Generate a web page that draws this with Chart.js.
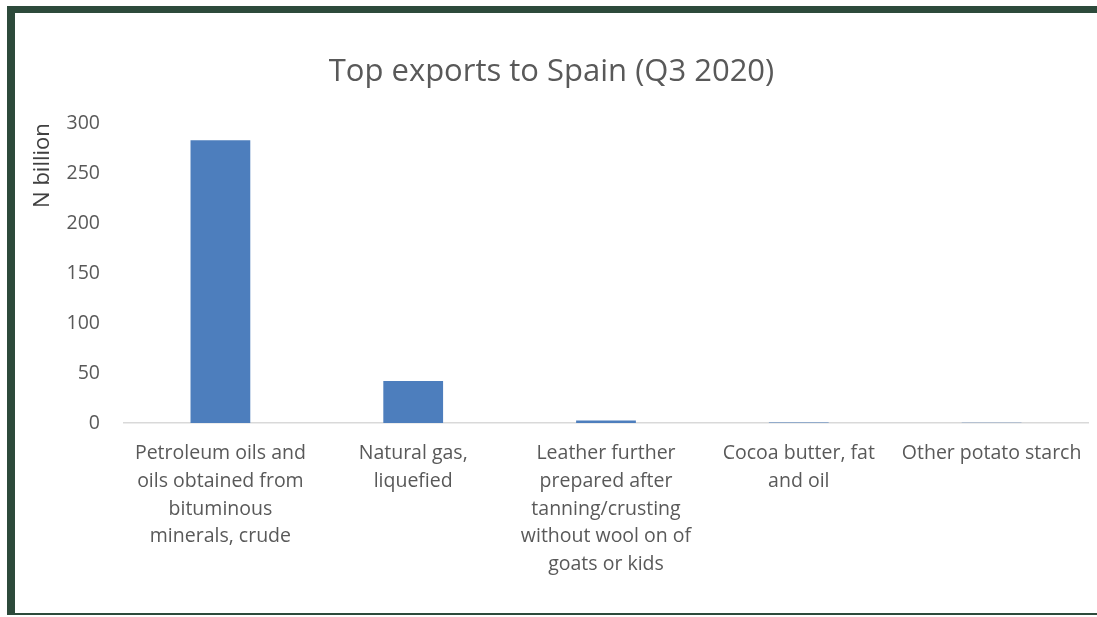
<!DOCTYPE html>
<html>
<head>
<meta charset="utf-8">
<script src="https://cdn.jsdelivr.net/npm/chart.js@4"></script>
<style>
  html, body { margin: 0; padding: 0; background: #ffffff; }
  body { width: 1097px; height: 617px; position: relative; overflow: hidden; }
  #frame { position: absolute; left: 7px; top: 6px; width: 1090px; height: 609px;
           border-left: 8px solid #2d4a3b; border-top: 7px solid #2d4a3b; border-bottom: 2px solid #2d4a3b; box-sizing: border-box; }
  #wrap { position: absolute; left: 15px; top: 13px; width: 1082px; height: 602px; }
</style>
</head>
<body>
<div id="frame"></div>
<div id="wrap"><canvas id="c" width="1082" height="602"></canvas></div>
<script>
const categories = [
  ["Petroleum oils and", "oils obtained from", "bituminous", "minerals, crude"],
  ["Natural gas,", "liquefied"],
  ["Leather further", "prepared after", "tanning/crusting", "without wool on of", "goats or kids"],
  ["Cocoa butter, fat", "and oil"],
  ["Other potato starch"]
];
const values = [283, 42, 2.5, 0.4, 0.2];
const yTicks = [0, 50, 100, 150, 200, 250, 300];
const titleText = "Top exports to Spain (Q3 2020)";
const yTitle = "N billion";

const FONT = "'Open Sans', 'Noto Sans', sans-serif";

new Chart(document.getElementById('c'), {
  type: 'bar',
  data: {
    labels: categories,
    datasets: [{
      data: values,
      backgroundColor: '#4d7ebd',
      barPercentage: 0.62,
      categoryPercentage: 0.5
    }]
  },
  options: {
    responsive: false,
    animation: false,
    layout: { padding: { top: 30, right: 9, bottom: 0, left: 0 } },
    plugins: {
      legend: { display: false },
      tooltip: { enabled: false },
      title: {
        display: true,
        text: titleText,
        color: '#595959',
        font: { family: FONT, size: 31, weight: 'normal' },
        padding: { top: 11, bottom: 32 }
      }
    },
    scales: {
      x: {
        grid: { display: false },
        border: { display: true, color: '#d9d9d9', width: 1.5 },
        ticks: {
          color: '#595959',
          font: { family: FONT, size: 19.5, lineHeight: 1.42 },
          maxRotation: 0, minRotation: 0, autoSkip: false,
          padding: 9
        },
        afterFit: (s) => { s.height = 192; }
      },
      y: {
        min: 0, max: 300,
        grid: { display: false },
        border: { display: false },
        afterBuildTicks: (s) => { s.ticks = yTicks.map(v => ({ value: v })); },
        ticks: {
          color: '#595959',
          font: { family: FONT, size: 19.5 },
          padding: 16
        },
        title: {
          display: true,
          text: yTitle,
          align: 'end',
          color: '#404040',
          font: { family: FONT, size: 22 },
          padding: { top: 15, bottom: 4 }
        },
        afterFit: (s) => { s.width = 109; }
      }
    }
  }
});
</script>
</body>
</html>
